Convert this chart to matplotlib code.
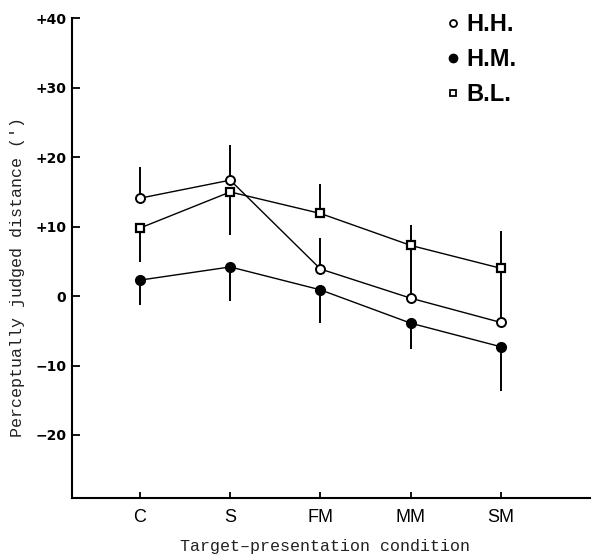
import matplotlib
matplotlib.use("Agg")
import matplotlib.pyplot as plt
from matplotlib.lines import Line2D

# conditions on the x axis
conditions = ["C", "S", "FM", "MM", "SM"]

# mean perceptually judged distance (minutes of arc)
hh = [14.1, 16.7, 3.9, -0.3, -3.8]
hm = [2.3, 4.2, 0.9, -3.9, -7.3]
bl = [9.8, 15.0, 11.9, 7.3, 4.0]

# one-sided error bars
hh_up = [4.5, 5.0, 4.5, 7.4, 7.8]
hm_down = [3.6, 4.9, 4.8, 3.7, 6.4]
bl_down = [4.9, 6.2, 0.0, 0.0, 0.0]
bl_up = [0.0, 0.0, 4.3, 3.0, 5.4]

x = list(range(len(conditions)))

fig = plt.figure(figsize=(5.92, 5.56), dpi=100)
ax = fig.add_axes([0.1216, 0.104, 0.875, 0.863])

lw = 1.0
# error bars (no caps)
ax.errorbar(x, hh, yerr=[[0] * 5, hh_up], fmt="none", ecolor="black", elinewidth=1.4, capsize=0)
ax.errorbar(x, hm, yerr=[hm_down, [0] * 5], fmt="none", ecolor="black", elinewidth=1.4, capsize=0)
ax.errorbar(x, bl, yerr=[bl_down, bl_up], fmt="none", ecolor="black", elinewidth=1.4, capsize=0)

ax.plot(x, hh, color="black", lw=lw, marker="o", ms=6.5, mfc="white", mec="black", mew=1.4, zorder=3)
ax.plot(x, hm, color="black", lw=lw, marker="o", ms=7, mfc="black", mec="black", zorder=3)
ax.plot(x, bl, color="black", lw=lw, marker="s", ms=6, mfc="white", mec="black", mew=1.6, zorder=3)

ax.set_xlim(-0.753, 4.986)
ax.set_ylim(-29.1, 40)

for s in ["top", "right"]:
    ax.spines[s].set_visible(False)
for s in ["left", "bottom"]:
    ax.spines[s].set_linewidth(1.5)

ax.set_xticks(x)
ax.set_xticklabels(conditions, fontsize=13, family=["Liberation Sans", "DejaVu Sans"])
ax.set_yticks([40, 30, 20, 10, 0, -10, -20])
ax.set_yticklabels(["+40", "+30", "+20", "+10", "0", "\u221210", "\u221220"],
                   fontsize=10, fontweight="bold",
                   family=["Liberation Sans Narrow", "DejaVu Sans"])
ax.tick_params(axis="y", direction="in", length=6, width=1.3, pad=4)
ax.tick_params(axis="x", direction="in", length=4, width=1.3, pad=8)

mono = ["Liberation Mono", "DejaVu Sans Mono"]
fig.text(0.03, 0.502, "Perceptually judged distance (\u2032)", rotation=90, fontsize=12,
         family=mono, color="#222222", ha="center", va="center")
fig.text(0.549, 0.017, "Target\u2013presentation condition", fontsize=12,
         family=mono, color="#222222", ha="center", va="center")

handles = [
    Line2D([], [], ls="none", marker="o", ms=5, mfc="white", mec="black", mew=1.3),
    Line2D([], [], ls="none", marker="o", ms=6, mfc="black", mec="black"),
    Line2D([], [], ls="none", marker="s", ms=5, mfc="white", mec="black", mew=1.3),
]
ax.legend(handles, ["H.H.", "H.M.", "B.L."], loc="upper left", bbox_to_anchor=(0.68, 1.055),
          frameon=False, handlelength=0.6, handletextpad=0.3, labelspacing=0.5,
          prop={"size": 17, "weight": "bold", "family": ["Liberation Sans", "DejaVu Sans"]})

fig.savefig("out.png", dpi=100)
